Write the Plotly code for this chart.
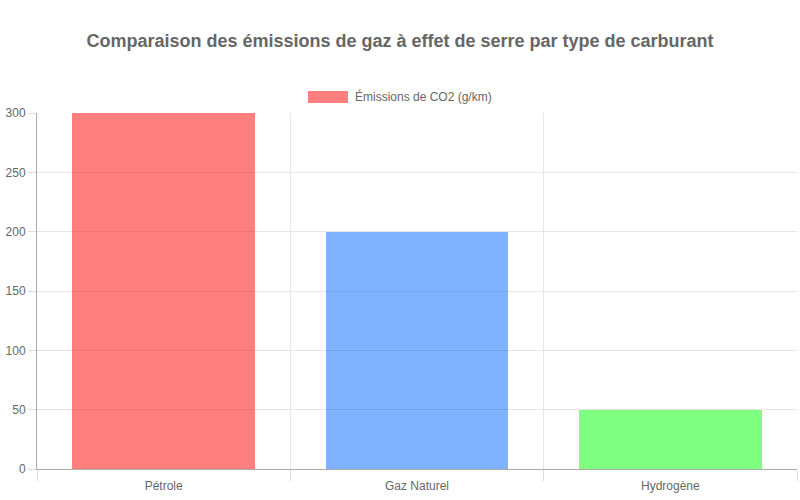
import plotly.graph_objects as go

# data
carburants = ["Pétrole", "Gaz Naturel", "Hydrogène"]
emissions = [300, 200, 50]
couleurs = ["rgba(255,0,0,0.5)", "rgba(0,102,255,0.5)", "rgba(0,255,0,0.5)"]
serie = "Émissions de CO2 (g/km)"
titre = "Comparaison des émissions de gaz à effet de serre par type de carburant"

pos = list(range(len(carburants)))
bornes = [p - 0.5 for p in pos] + [pos[-1] + 0.5]

fig = go.Figure()
fig.add_trace(go.Bar(
    x=pos, y=emissions, name=serie, width=0.72,
    marker=dict(color=couleurs, line=dict(width=0)),
    showlegend=False,
))

font = "Liberation Sans, Arial, sans-serif"
fig.update_layout(
    width=800, height=500,
    margin=dict(l=37, r=3, t=113, b=31, autoexpand=False),
    plot_bgcolor="white", paper_bgcolor="white",
    font=dict(family=font, size=12, color="#666"),
    title=dict(text="<b>" + titre + "</b>", x=0.5, xanchor="center",
               y=0.918, yanchor="middle", font=dict(size=18, color="#666")),
    bargap=0,
)

fig.update_xaxes(
    range=[bornes[0], bornes[-1]], automargin=False,
    tickvals=pos, ticktext=carburants, ticks="", showgrid=False,
    ticklabelstandoff=6,
    showline=True, linecolor="#aaa", linewidth=1, zeroline=False,
    minor=dict(tickvals=bornes, showgrid=True, gridcolor="#e6e6e6",
               ticks="outside", ticklen=11, tickcolor="#ddd"),
    tickfont=dict(size=12, color="#666"),
)
fig.update_yaxes(
    range=[0, 300], dtick=50, ticks="outside", ticklen=8, tickcolor="#ddd",
    showgrid=True, gridcolor="#e6e6e6", zeroline=False, automargin=False,
    showline=True, linecolor="#aaa", linewidth=1,
    tickfont=dict(size=12, color="#666"),
)

# legend drawn chart.js style
fig.add_shape(type="rect", xref="paper", yref="paper",
              x0=(308 - 37) / 760, x1=(348 - 37) / 760,
              y0=(469 - 103) / 356, y1=(469 - 91) / 356,
              fillcolor=couleurs[0], line=dict(width=0))
fig.add_annotation(text=serie, xref="paper", yref="paper",
                   x=(353 - 37) / 760, y=(469 - 97) / 356,
                   xanchor="left", yanchor="middle", showarrow=False,
                   font=dict(size=12, color="#666"))

# no page margin so the chart sits at the window's top-left corner
fig.write_html("out.html", config={"displayModeBar": False},
               post_script="document.body.style.margin='0';")
